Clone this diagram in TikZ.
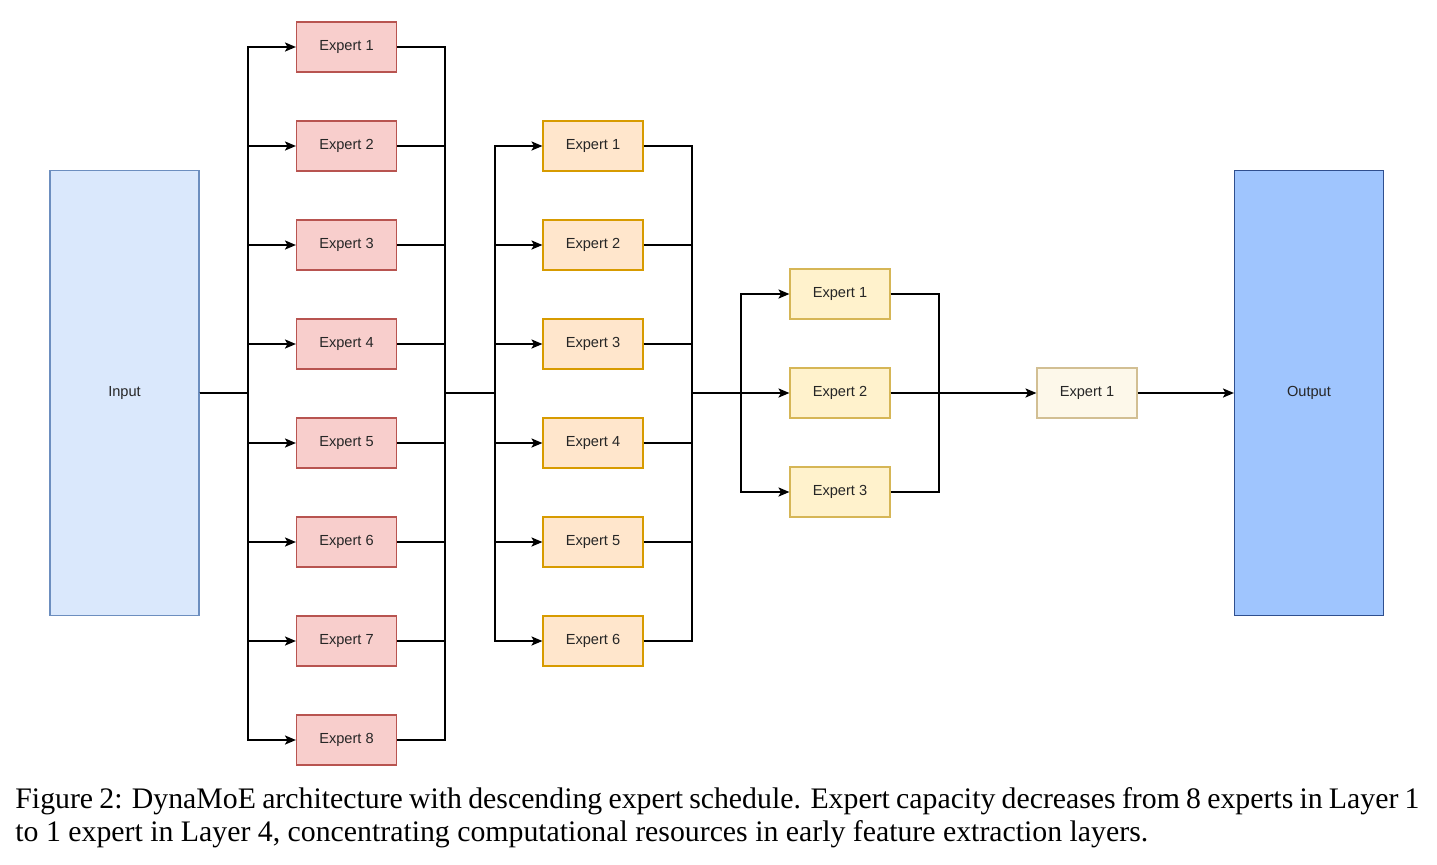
\documentclass[tikz,border=0pt]{standalone}
\usepackage{fontspec}
\setmainfont{Liberation Serif}
\newfontfamily\boxfont{Liberation Sans}
\usetikzlibrary{arrows.meta}
\definecolor{redfill}{HTML}{F8CECC}
\definecolor{redline}{HTML}{B85450}
\definecolor{orgfill}{HTML}{FFE6CC}
\definecolor{orgline}{HTML}{D79B00}
\definecolor{yelfill}{HTML}{FFF2CC}
\definecolor{yelline}{HTML}{D6B656}
\definecolor{crmfill}{HTML}{FDF8EA}
\definecolor{crmline}{HTML}{D2BF93}
\definecolor{infill}{HTML}{DAE8FC}
\definecolor{inline}{HTML}{6C8EBF}
\definecolor{outfill}{HTML}{9FC5FE}
\definecolor{outline}{HTML}{2F4F8F}
\tikzset{
  box/.style={draw, line width=0.6pt, minimum width=50pt, minimum height=25pt, inner sep=0pt, font=\boxfont\fontsize{7.3}{8}\selectfont, text=black!85},
  l1/.style={box, fill=redfill, draw=redline},
  l2/.style={box, fill=orgfill, draw=orgline},
  l3/.style={box, fill=yelfill, draw=yelline},
  l4/.style={box, fill=crmfill, draw=crmline},
  io/.style={draw, line width=0.6pt, minimum width=74.5pt, minimum height=222.5pt, inner sep=0pt, font=\boxfont\fontsize{7.3}{8}\selectfont, text=black!85},
  wire/.style={line width=0.7pt, black},
  arr/.style={wire, -{Stealth[length=5.5pt,width=4.6pt,inset=1.3pt]}},
  captext/.style={anchor=base west, inner sep=0pt, font=\fontsize{14.9}{16}\selectfont}
}
\begin{document}
\begin{tikzpicture}[x=0.5pt,y=-0.5pt]
\useasboundingbox (0,0) rectangle (1437,864);
% input / output
\node[io, fill=infill, draw=inline] (in) at (124.5,393) {Input};
\node[io, fill=outfill, draw=outline] (out) at (1309,393) {Output};
% bus coordinates
\coordinate (b1) at (248,393);
\coordinate (m1) at (445,393);
\coordinate (b2) at (495,393);
\coordinate (m2) at (692,393);
\coordinate (b3) at (741,393);
\coordinate (m3) at (939,393);
% layer 1
\foreach \i/\y in {1/47,2/146,3/245,4/344,5/443,6/542,7/641,8/740}{
  \node[l1] (a\i) at (346.5,\y) {Expert \i};
}
% layer 2
\foreach \i/\y in {1/146,2/245,3/344,4/443,5/542,6/641}{
  \node[l2] (c\i) at (593,\y) {Expert \i};
}
% layer 3
\foreach \i/\y in {1/294,2/393,3/492}{
  \node[l3] (d\i) at (840,\y) {Expert \i};
}
% layer 4
\node[l4] (e1) at (1087,393) {Expert 1};
% connectors layer 1
\foreach \i in {1,...,8}{
  \draw[arr] (in.east) -- (in.east -| b1) |- (a\i.west);
  \draw[wire] (a\i.east) -| (m1);
}
% connectors layer 2
\foreach \i in {1,...,6}{
  \draw[arr] (m1) -- (b2) |- (c\i.west);
  \draw[wire] (c\i.east) -| (m2);
}
% connectors layer 3
\foreach \i in {1,...,3}{
  \draw[arr] (m2) -- (b3) |- (d\i.west);
  \draw[wire] (d\i.east) -| (m3);
}
\draw[arr] (d2.east) -- (e1.west);
\draw[arr] (e1.east) -- (out.west);
% caption
\node[captext] (cap1) at (15,808) {\hbox to 702pt{Figure 2: DynaMoE architecture with descending expert schedule. Expert capacity decreases from 8 experts in Layer 1}};
\node[captext] (cap2) at (15,841) {to 1 expert in Layer 4, concentrating computational resources in early feature extraction layers.};
\end{tikzpicture}
\end{document}
